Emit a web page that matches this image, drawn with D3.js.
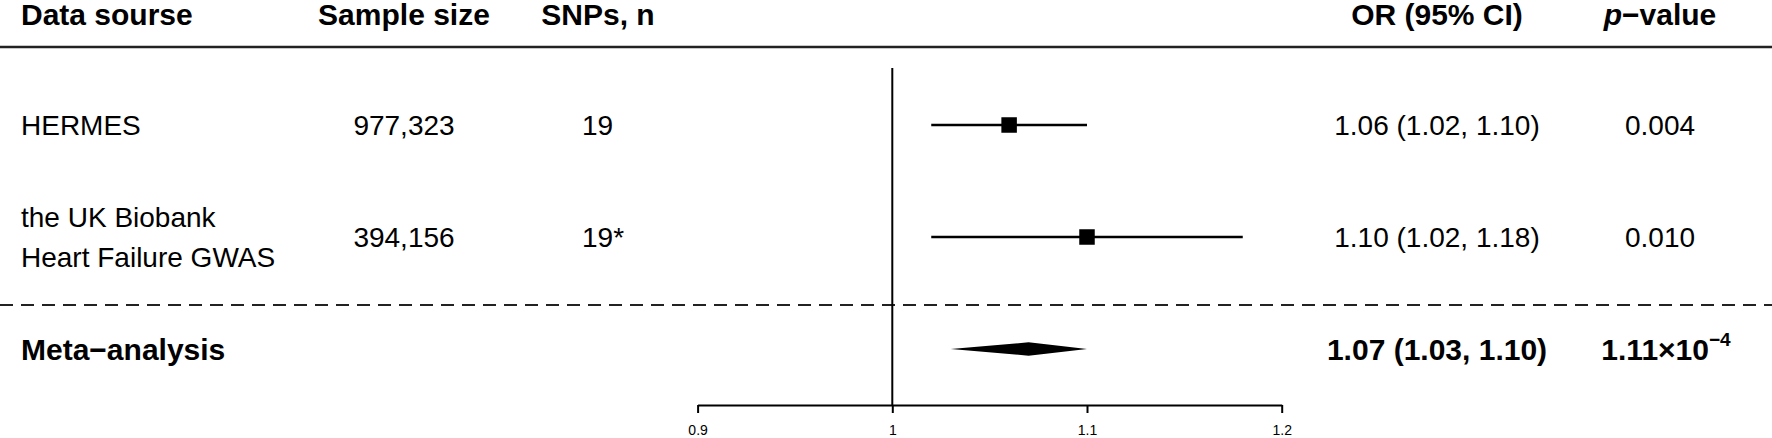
<!DOCTYPE html>
<html>
<head>
<meta charset="utf-8">
<script src="https://cdn.jsdelivr.net/npm/d3@7"></script>
<style>
  body { margin: 0; background: #fff; }
  svg { display: block; font-family: "Liberation Sans", Arial, sans-serif; }
</style>
</head>
<body>
<div id="forest-plot"></div>
<script>
// Table content
const headers = ["Data sourse", "Sample size", "SNPs, n", "OR (95% CI)", "p"];
const sources = [["HERMES"], ["the UK Biobank", "Heart Failure GWAS"]];
const sampleSizes = ["977,323", "394,156"];
const snpCounts = ["19", "19*"];
const orValues = [1.06, 1.10];
const ciLower = [1.02, 1.02];
const ciUpper = [1.10, 1.18];
const pValues = ["0.004", "0.010"];

// Pooled estimate
const metaLabel = "Meta\u2212analysis";
const metaOr = 1.07;
const metaLower = 1.03;
const metaUpper = 1.10;
const metaP = "1.11\u00d710";
const metaPExponent = "\u22124";

// Axis
const tickValues = [0.9, 1, 1.1, 1.2];
const tickLabels = ["0.9", "1", "1.1", "1.2"];

const width = 1772;
const height = 438;

// column positions
const col = {source: 21, sample: 404, snpHeader: 598, snp: 582, or: 1437, p: 1660};
const bodySize = 28;
const boldSize = 30;

const xScale = d3.scaleLinear()
  .domain([0.9, 1.2])
  .range([697.6, 1281.7]);

// rows: studies, meta (header sits on top of them)
const yScale = d3.scalePoint()
  .domain(d3.range(sources.length + 2))
  .range([13, 349]);

const svg = d3.select("#forest-plot")
  .append("svg")
    .attr("viewBox", [0, 0, width, height])
    .attr("width", width)
    .attr("height", height);

const fmt = d3.format(".2f");

// Header row
const headerY = yScale(0) + 1.5;
const headerAnchors = ["start", "middle", "middle", "middle", "middle"];
const headerX = [col.source, col.sample, col.snpHeader, col.or, col.p];
const headerText = svg.append("g")
    .attr("font-weight", "bold")
    .attr("font-size", boldSize)
  .selectAll("text")
  .data(headers)
  .join("text")
    .attr("x", (d, i) => headerX[i])
    .attr("y", headerY)
    .attr("dy", "0.36em")
    .attr("text-anchor", (d, i) => headerAnchors[i])
    .text((d, i) => i === 4 ? null : d);

// p-value header, italic p
const pHeader = headerText.filter((d, i) => i === 4);
pHeader.append("tspan").attr("font-style", "italic").text(headers[4]);
pHeader.append("tspan").text("\u2212value");

// Rules
svg.append("line")
    .attr("x1", 0).attr("x2", width)
    .attr("y1", 47).attr("y2", 47)
    .attr("stroke", "#222")
    .attr("stroke-width", 2.5);

svg.append("line")
    .attr("x1", 0).attr("x2", width)
    .attr("y1", 305).attr("y2", 305)
    .attr("stroke", "#222")
    .attr("stroke-width", 2)
    .attr("stroke-dasharray", "13,8");

// Study rows
const rows = svg.append("g")
    .attr("font-size", bodySize)
  .selectAll("g.study")
  .data(sources)
  .join("g")
    .attr("class", "study")
    .attr("transform", (d, i) => `translate(0, ${yScale(i + 1)})`);

rows.append("text")
    .attr("x", col.source)
    .attr("y", d => -(d.length - 1) * 20.3)
    .attr("dy", "0.36em")
  .selectAll("tspan")
  .data(d => d)
  .join("tspan")
    .attr("x", col.source)
    .attr("dy", (d, i) => i === 0 ? "0.36em" : 40.6)
    .text(d => d);

rows.append("text")
    .attr("x", col.sample)
    .attr("dy", "0.36em")
    .attr("text-anchor", "middle")
    .text((d, i) => sampleSizes[i]);

rows.append("text")
    .attr("x", col.snp)
    .attr("dy", "0.36em")
    .text((d, i) => snpCounts[i]);

rows.append("text")
    .attr("x", col.or)
    .attr("dy", "0.36em")
    .attr("text-anchor", "middle")
    .text((d, i) => `${fmt(orValues[i])} (${fmt(ciLower[i])}, ${fmt(ciUpper[i])})`);

rows.append("text")
    .attr("x", col.p)
    .attr("dy", "0.36em")
    .attr("text-anchor", "middle")
    .text((d, i) => pValues[i]);

// CI whiskers and boxes
rows.append("line")
    .attr("x1", (d, i) => xScale(ciLower[i]))
    .attr("x2", (d, i) => xScale(ciUpper[i]))
    .attr("stroke", "#000")
    .attr("stroke-width", 2.4);

const boxSize = 15.5;
rows.append("rect")
    .attr("x", (d, i) => xScale(orValues[i]) - boxSize / 2)
    .attr("y", -boxSize / 2)
    .attr("width", boxSize)
    .attr("height", boxSize)
    .attr("fill", "#000");

// Meta-analysis row
const metaY = yScale(sources.length + 1);
const meta = svg.append("g")
    .attr("font-weight", "bold")
    .attr("font-size", boldSize)
    .attr("transform", `translate(0, ${metaY})`);

meta.append("text")
    .attr("x", col.source)
    .attr("dy", "0.36em")
    .text(metaLabel);

meta.append("text")
    .attr("x", col.or)
    .attr("dy", "0.36em")
    .attr("text-anchor", "middle")
    .text(`${fmt(metaOr)} (${fmt(metaLower)}, ${fmt(metaUpper)})`);

const metaPText = meta.append("text")
    .attr("x", col.p + 6)
    .attr("dy", "0.36em")
    .attr("text-anchor", "middle");
metaPText.append("tspan").text(metaP);
metaPText.append("tspan")
    .attr("font-size", 19)
    .attr("dy", "-0.75em")
    .text(metaPExponent);

const diamondHalf = 6.7;
meta.append("path")
    .attr("d", d3.line()([
      [xScale(metaLower), 0],
      [xScale(metaOr), -diamondHalf],
      [xScale(metaUpper), 0],
      [xScale(metaOr), diamondHalf]
    ]) + "Z")
    .attr("fill", "#000");

// Reference line at OR = 1
const axisY = 405;
svg.append("line")
    .attr("x1", xScale(1)).attr("x2", xScale(1))
    .attr("y1", 68).attr("y2", axisY)
    .attr("stroke", "#000")
    .attr("stroke-width", 2);

// x axis
const bottomAxis = d3.axisBottom(xScale)
  .tickValues(tickValues)
  .tickFormat((d, i) => tickLabels[i])
  .tickSize(8)
  .tickSizeOuter(0)
  .tickPadding(12);

const axis = svg.append("g")
    .attr("transform", `translate(0, ${axisY})`)
    .call(bottomAxis);
axis.select(".domain")
    .attr("stroke", "#000")
    .attr("stroke-width", 2);
axis.selectAll(".tick line")
    .attr("stroke", "#000")
    .attr("stroke-width", 2);
axis.selectAll(".tick text")
    .attr("fill", "#000")
    .attr("font-family", "'Liberation Sans', Arial, sans-serif")
    .attr("font-size", 14);
</script>
</body>
</html>
